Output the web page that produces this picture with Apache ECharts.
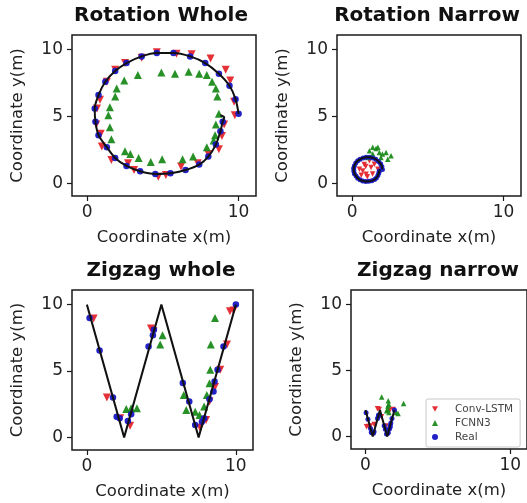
<!DOCTYPE html>
<html>
<head>
<meta charset="utf-8">
<script src="https://cdn.jsdelivr.net/npm/echarts@6/dist/echarts.min.js"></script>
<style>
html,body{margin:0;padding:0;background:#fff;}
#chart{width:527px;height:503px;}
</style>
</head>
<body>
<div id="chart"></div>
<script>
// ---------- DATA ----------
const titles = ['Rotation Whole', 'Rotation Narrow', 'Zigzag whole', 'Zigzag narrow'];
const seriesNames = ['Conv-LSTM', 'FCNN3', 'Real'];
const xTicks = [0, 10];
const yTicks = [0, 5, 10];
const xName = 'Coordinate x(m)';
const yName = 'Coordinate y(m)';

// Rotation Whole
const rwPath = [[10.0,5.2],[9.8,6.3],[9.4,7.3],[8.7,8.2],[7.8,9.0],[6.8,9.5],[5.7,9.75],[4.6,9.75],[3.6,9.5],[2.6,9.0],[1.85,8.4],[1.2,7.6],[0.75,6.6],[0.5,5.6],[0.55,4.6],[0.75,3.6],[1.3,2.7],[1.85,1.9],[2.6,1.3],[3.5,0.9],[4.5,0.7],[5.5,0.75],[6.5,1.0],[7.4,1.4],[8.0,2.0],[8.5,2.9],[8.8,3.9],[8.95,4.6],[9.05,4.95],[8.8,5.1]];
const rwReal = [[10.0,5.2],[9.8,6.3],[9.4,7.3],[8.7,8.2],[7.8,9.0],[6.8,9.5],[5.7,9.75],[4.6,9.75],[3.6,9.5],[2.6,9.0],[1.85,8.4],[1.2,7.6],[0.75,6.6],[0.5,5.6],[0.55,4.6],[0.75,3.6],[1.3,2.7],[1.85,1.9],[2.6,1.3],[3.5,0.9],[4.5,0.7],[5.5,0.75],[6.5,1.0],[7.4,1.4],[8.0,2.0],[8.5,2.9],[8.8,3.9],[8.95,4.6]];
const rwLstm = [[9.75,5.1],[9.7,6.1],[9.45,7.7],[9.15,8.5],[8.15,9.35],[6.9,9.65],[5.9,9.7],[4.6,9.8],[3.6,9.4],[2.5,9.0],[1.85,8.5],[1.3,7.6],[0.85,6.25],[0.65,5.6],[0.6,4.4],[0.9,3.7],[0.97,2.75],[1.6,1.75],[2.7,1.5],[3.1,1.0],[4.7,0.5],[5.2,0.62],[6.2,1.25],[7.3,1.5],[8.0,2.2],[8.7,2.55],[8.9,3.55],[9.05,4.4]];
const rwFcnn = [[2.45,7.7],[1.95,7.1],[1.85,6.5],[1.5,5.7],[1.4,5.1],[1.5,4.2],[1.6,3.3],[2.5,2.4],[2.85,2.2],[3.4,1.9],[4.2,1.6],[4.95,1.8],[6.3,1.8],[7.0,2.0],[7.9,2.7],[8.35,3.2],[8.45,3.6],[8.5,4.4],[8.7,5.2],[8.6,6.5],[8.5,7.1],[8.25,7.6],[7.9,8.1],[7.4,8.2],[6.7,8.35],[5.8,8.2],[4.9,8.3],[3.35,8.1]];

// Rotation Narrow
const rnPath = [[2.0,1.04],[1.96,1.26],[1.88,1.46],[1.74,1.64],[1.56,1.8],[1.36,1.9],[1.14,1.95],[0.92,1.95],[0.72,1.9],[0.52,1.8],[0.37,1.68],[0.24,1.52],[0.15,1.32],[0.1,1.12],[0.11,0.92],[0.15,0.72],[0.26,0.54],[0.37,0.38],[0.52,0.26],[0.7,0.18],[0.9,0.14],[1.1,0.15],[1.3,0.2],[1.48,0.28],[1.6,0.4],[1.7,0.58],[1.76,0.78],[1.79,0.92],[1.81,0.99],[1.76,1.02]];
const rnReal = [[2.0,1.04],[1.96,1.26],[1.88,1.46],[1.74,1.64],[1.56,1.8],[1.36,1.9],[1.14,1.95],[0.92,1.95],[0.72,1.9],[0.52,1.8],[0.37,1.68],[0.24,1.52],[0.15,1.32],[0.1,1.12],[0.11,0.92],[0.15,0.72],[0.26,0.54],[0.37,0.38],[0.52,0.26],[0.7,0.18],[0.9,0.14],[1.1,0.15],[1.3,0.2],[1.48,0.28],[1.6,0.4],[1.7,0.58],[1.76,0.78],[1.79,0.92]];
const rnLstm = [[0.48,1.05],[0.7,0.93],[0.92,0.68],[1.25,1.18],[1.47,1.43],[1.14,1.69],[0.8,1.4],[1.7,1.06],[0.6,0.6],[1.0,0.5],[1.35,0.7],[0.9,1.25]];
const rnFcnn = [[1.03,1.94],[1.14,2.44],[1.36,2.7],[1.58,2.6],[1.36,2.2],[1.7,2.7],[1.8,2.3],[2.0,2.2],[2.24,2.3],[2.57,2.07],[2.35,1.8],[1.9,1.94]];

// Zigzag whole
const zwPath = [[0,10],[2.5,0],[5,10],[7.5,0],[10,10]];
const zwReal = [[0.18,9.0],[0.85,6.55],[1.75,3.0],[2.0,1.56],[2.2,1.44],[2.75,1.23],[2.97,1.74],[4.14,6.85],[4.43,7.7],[4.5,8.1],[6.44,4.1],[6.87,2.7],[7.27,0.93],[7.72,1.18],[7.87,1.44],[8.23,2.87],[8.5,3.45],[8.57,4.2],[8.77,5.1],[9.17,6.85],[10,10]];
const zwLstm = [[0.45,8.95],[1.34,3.0],[2.24,1.44],[2.9,0.88],[4.3,8.2],[4.47,8.0],[7.6,0.73],[8.0,1.3],[8.23,2.7],[8.6,3.8],[8.95,5.1],[9.4,7.0],[9.6,9.5],[9.84,9.55]];
const zwFcnn = [[2.64,2.14],[2.97,2.2],[3.36,2.2],[4.92,7.0],[5.08,7.7],[6.5,3.2],[6.67,2.07],[7.27,1.94],[7.56,1.69],[7.87,2.32],[8.05,3.2],[8.23,4.08],[8.28,5.1],[8.32,7.0],[8.6,9.0]];

// Zigzag narrow
const znPath = [[0,2],[0.5,0],[1,2],[1.5,0],[2,2]];
const znReal = [[0.04,1.8],[0.17,1.31],[0.35,0.6],[0.4,0.31],[0.44,0.29],[0.55,0.25],[0.59,0.35],[0.83,1.37],[0.89,1.54],[0.9,1.62],[1.29,0.82],[1.37,0.54],[1.45,0.19],[1.54,0.24],[1.57,0.29],[1.65,0.57],[1.7,0.69],[1.71,0.84],[1.75,1.02],[1.83,1.37],[2.0,2.0]];
const znLstm = [[0.07,0.73],[0.2,0.75],[0.34,0.8],[0.83,2.1],[0.95,2.05],[1.42,0.8],[1.69,2.0],[1.91,2.04],[0.6,0.9],[1.1,1.5]];
const znFcnn = [[1.12,3.0],[1.57,2.7],[1.6,2.44],[1.53,2.07],[1.62,1.81],[2.13,1.81],[2.25,1.74],[2.63,2.5],[1.46,1.94],[1.55,2.3]];

// ---------- STYLE / LAYOUT ----------
const FONT = 'DejaVu Sans';
const RED = '#e3262d', GREEN = '#1b8a1b', BLUE = '#1616c4';
const DOWN_TRI = 'path://M0,0L10,0L5,9Z';
const xRange = [-1, 11.15], yRange = [-0.95, 11.1];
const grids = [
  {left: 72, top: 35, width: 184, height: 161},
  {left: 337, top: 35, width: 184, height: 161},
  {left: 72, top: 290, width: 181, height: 160},
  {left: 351, top: 290, width: 178, height: 159}
];
const titlePos = [[161, 6], [427, 6], [161, 261], [438, 261]];
const panels = [
  {path: rwPath, real: rwReal, lstm: rwLstm, fcnn: rwFcnn, smooth: 0.3, big: true},
  {path: rnPath, real: rnReal, lstm: rnLstm, fcnn: rnFcnn, smooth: 0.3, big: false},
  {path: zwPath, real: zwReal, lstm: zwLstm, fcnn: zwFcnn, smooth: false, big: true},
  {path: znPath, real: znReal, lstm: znLstm, fcnn: znFcnn, smooth: false, big: false}
];

const option = {
  animation: false,
  backgroundColor: '#fff',
  textStyle: {fontFamily: FONT},
  title: titles.map((t, i) => ({
    text: t, left: titlePos[i][0], top: titlePos[i][1], textAlign: 'center', padding: 0,
    textStyle: {fontFamily: FONT, fontWeight: 'bold', fontSize: 20, color: '#111'}
  })),
  grid: grids.map(g => Object.assign({show: true, borderColor: '#1a1a1a', borderWidth: 1.5, backgroundColor: 'rgba(0,0,0,0)', containLabel: false}, g)),
  xAxis: grids.map((g, i) => ({
    type: 'value', gridIndex: i, min: xRange[0], max: xRange[1],
    axisLine: {show: false, onZero: false},
    axisTick: {show: true, length: 5, customValues: xTicks, lineStyle: {color: '#1a1a1a', width: 1.2}},
    axisLabel: {customValues: xTicks, fontSize: 17, color: '#222', margin: 8, fontFamily: FONT},
    splitLine: {show: false},
    name: xName, nameLocation: 'middle', nameGap: 33,
    nameTextStyle: {fontSize: 16.5, color: '#222', fontFamily: FONT}
  })),
  yAxis: grids.map((g, i) => ({
    type: 'value', gridIndex: i, min: yRange[0], max: yRange[1],
    axisLine: {show: false, onZero: false},
    axisTick: {show: true, length: 5, customValues: yTicks, lineStyle: {color: '#1a1a1a', width: 1.2}},
    axisLabel: {customValues: yTicks, fontSize: 17, color: '#222', margin: 9, fontFamily: FONT},
    splitLine: {show: false},
    name: yName, nameLocation: 'middle', nameGap: 46,
    nameTextStyle: {fontSize: 16.5, color: '#222', fontFamily: FONT}
  })),
  legend: {
    data: seriesNames,
    orient: 'vertical', left: 426, top: 399,
    itemWidth: 6, itemHeight: 6, itemGap: 2,
    padding: [4, 7, 4, 6],
    borderColor: '#c8c8c8', borderWidth: 1, borderRadius: 2,
    backgroundColor: '#fff',
    textStyle: {fontSize: 10.5, color: '#444', fontFamily: FONT, lineHeight: 12, padding: [0, 0, 0, 12]}
  },
  series: []
};

panels.forEach((p, i) => {
  const tri = p.big ? 8 : 5.5, dot = p.big ? 6.5 : 5;
  option.series.push(
    {name: 'Conv-LSTM', type: 'scatter', xAxisIndex: i, yAxisIndex: i, data: p.lstm,
     symbol: DOWN_TRI, symbolSize: tri, itemStyle: {color: RED, opacity: 0.95}, z: 2},
    {name: 'FCNN3', type: 'scatter', xAxisIndex: i, yAxisIndex: i, data: p.fcnn,
     symbol: 'triangle', symbolSize: tri, itemStyle: {color: GREEN, opacity: 0.95}, z: 3},
    {name: 'Real', type: 'scatter', xAxisIndex: i, yAxisIndex: i, data: p.real,
     symbol: 'circle', symbolSize: dot, itemStyle: {color: BLUE, opacity: 0.95}, z: 4},
    {name: 'path', type: 'line', xAxisIndex: i, yAxisIndex: i, data: p.path,
     showSymbol: false, smooth: p.smooth, lineStyle: {color: '#111', width: 2}, z: 5, silent: true}
  );
});

const chart = echarts.init(document.getElementById('chart'), null, {renderer: 'canvas'});
chart.setOption(option);
</script>
</body>
</html>
